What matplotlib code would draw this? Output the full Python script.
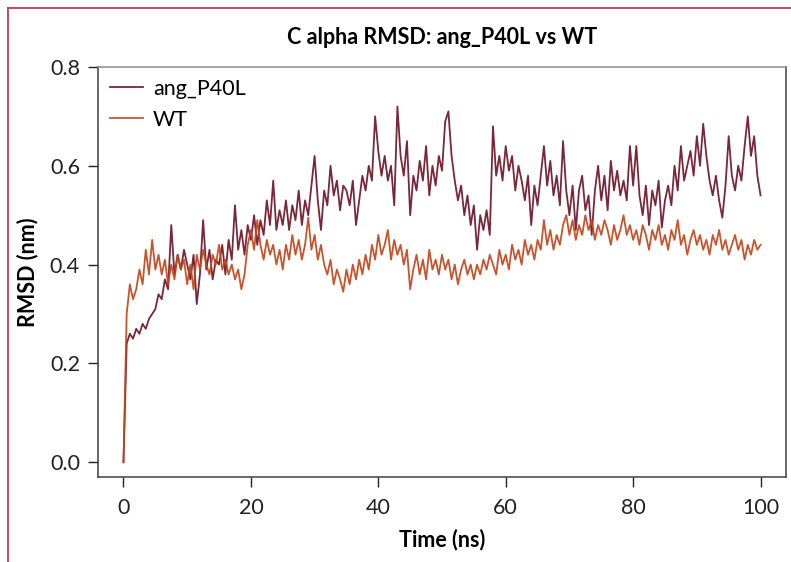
import numpy as np
import matplotlib
matplotlib.use("Agg")
import matplotlib.pyplot as plt
from matplotlib.lines import Line2D

plt.rcParams['font.family'] = ['Lato', 'DejaVu Sans']

# sampling times (ns), one value every 0.5 ns
time_ns = np.arange(0, 100.01, 0.5)

# C alpha RMSD (nm) of the mutant
rmsd_p40l = [
    0.00, 0.24, 0.26, 0.25, 0.27, 0.26, 0.28, 0.27, 0.29, 0.30,
    0.31, 0.34, 0.33, 0.37, 0.35, 0.48, 0.38, 0.42, 0.39, 0.43,
    0.40, 0.37, 0.42, 0.32, 0.38, 0.49, 0.39, 0.43, 0.37, 0.41,
    0.40, 0.44, 0.38, 0.45, 0.41, 0.52, 0.43, 0.47, 0.42, 0.48,
    0.45, 0.50, 0.44, 0.49, 0.46, 0.53, 0.48, 0.57, 0.47, 0.51,
    0.48, 0.53, 0.47, 0.52, 0.49, 0.55, 0.48, 0.53, 0.50, 0.56,
    0.62, 0.53, 0.47, 0.55, 0.52, 0.60, 0.54, 0.57, 0.51, 0.56,
    0.55, 0.52, 0.57, 0.48, 0.53, 0.58, 0.55, 0.60, 0.57, 0.70,
    0.63, 0.58, 0.62, 0.57, 0.60, 0.52, 0.72, 0.62, 0.58, 0.65,
    0.50, 0.58, 0.55, 0.61, 0.57, 0.64, 0.54, 0.60, 0.56, 0.62,
    0.59, 0.69, 0.71, 0.62, 0.57, 0.53, 0.56, 0.50, 0.54, 0.48,
    0.52, 0.43, 0.50, 0.47, 0.51, 0.46, 0.68, 0.58, 0.62, 0.57,
    0.64, 0.59, 0.62, 0.55, 0.60, 0.57, 0.53, 0.58, 0.48, 0.56,
    0.52, 0.58, 0.64, 0.56, 0.61, 0.54, 0.58, 0.52, 0.65, 0.55,
    0.50, 0.56, 0.47, 0.55, 0.58, 0.51, 0.54, 0.46, 0.55, 0.60,
    0.53, 0.58, 0.51, 0.61, 0.55, 0.59, 0.54, 0.57, 0.53, 0.64,
    0.56, 0.64, 0.54, 0.50, 0.56, 0.48, 0.55, 0.52, 0.57, 0.475,
    0.53, 0.56, 0.52, 0.60, 0.55, 0.64, 0.57, 0.60, 0.63, 0.58,
    0.66, 0.60, 0.685, 0.62, 0.57, 0.54, 0.58, 0.53, 0.495, 0.56,
    0.66, 0.58, 0.55, 0.60, 0.57, 0.64, 0.70, 0.62, 0.66, 0.58,
    0.54,
]

# C alpha RMSD (nm) of the wild type
rmsd_wt = [
    0.00, 0.30, 0.36, 0.33, 0.35, 0.39, 0.36, 0.43, 0.38, 0.45,
    0.39, 0.42, 0.38, 0.41, 0.36, 0.40, 0.37, 0.42, 0.39, 0.41,
    0.36, 0.40, 0.35, 0.42, 0.39, 0.43, 0.40, 0.38, 0.42, 0.40,
    0.44, 0.39, 0.41, 0.38, 0.40, 0.37, 0.39, 0.35, 0.38, 0.44,
    0.47, 0.43, 0.49, 0.44, 0.41, 0.45, 0.42, 0.44, 0.40, 0.43,
    0.39, 0.44, 0.41, 0.46, 0.42, 0.45, 0.41, 0.44, 0.495, 0.43,
    0.46, 0.41, 0.44, 0.40, 0.38, 0.41, 0.36, 0.39, 0.37, 0.345,
    0.39, 0.36, 0.40, 0.37, 0.41, 0.38, 0.42, 0.39, 0.44, 0.41,
    0.46, 0.42, 0.44, 0.47, 0.41, 0.45, 0.42, 0.44, 0.40, 0.43,
    0.35, 0.39, 0.42, 0.38, 0.41, 0.37, 0.43, 0.39, 0.41, 0.38,
    0.42, 0.39, 0.41, 0.37, 0.40, 0.36, 0.39, 0.41, 0.38, 0.40,
    0.37, 0.40, 0.38, 0.41, 0.39, 0.42, 0.40, 0.38, 0.43, 0.40,
    0.42, 0.39, 0.44, 0.41, 0.43, 0.40, 0.45, 0.42, 0.44, 0.41,
    0.45, 0.43, 0.49, 0.44, 0.47, 0.43, 0.46, 0.44, 0.48, 0.50,
    0.46, 0.49, 0.45, 0.48, 0.46, 0.50, 0.47, 0.49, 0.45, 0.48,
    0.46, 0.49, 0.47, 0.44, 0.48, 0.45, 0.47, 0.50, 0.46, 0.48,
    0.45, 0.47, 0.44, 0.48, 0.46, 0.43, 0.47, 0.45, 0.48, 0.44,
    0.46, 0.43, 0.47, 0.45, 0.49, 0.44, 0.46, 0.42, 0.45, 0.47,
    0.44, 0.46, 0.43, 0.45, 0.42, 0.46, 0.44, 0.47, 0.43, 0.45,
    0.42, 0.44, 0.46, 0.43, 0.45, 0.41, 0.44, 0.42, 0.45, 0.43,
    0.44,
]

labels = ['ang_P40L', 'WT']
colors = ['#6e1428', '#c4451c']

fig = plt.figure(figsize=(7.91, 5.62), dpi=100)
ax = fig.add_axes([0.1239, 0.1512, 0.8698, 0.7296])

ax.plot(time_ns, rmsd_p40l, color=colors[0], lw=1.3, alpha=0.92, label=labels[0])
ax.plot(time_ns, rmsd_wt, color=colors[1], lw=1.3, alpha=0.92, label=labels[1])

ax.set_xlim(-4, 104)
ax.set_ylim(-0.03, 0.8)
ax.set_xticks([0, 20, 40, 60, 80, 100])
ax.set_yticks([0.0, 0.2, 0.4, 0.6, 0.8])
ax.set_yticklabels(['0.0', '0.2', '0.4', '0.6', '0.8'])
ax.tick_params(direction='out', length=7, width=1, labelsize=15.5, colors='#222222')
ax.tick_params(axis='x', pad=8)
ax.tick_params(axis='y', pad=6)

for side in ['left', 'bottom', 'right']:
    ax.spines[side].set_color('#404040')
    ax.spines[side].set_linewidth(1.1)
ax.spines['top'].set_color('#8c8c8c')
ax.spines['top'].set_linewidth(1.1)

ax.set_xlabel('Time (ns)', fontsize=15.5, fontweight='bold', labelpad=8)
ax.set_ylabel('RMSD (nm)', fontsize=15.5, fontweight='bold', labelpad=8)

leg = ax.legend(loc='upper left', frameon=False, fontsize=15.5, handlelength=1.55,
                handletextpad=0.45, borderaxespad=0.15, labelspacing=0.5)

fig.text(0.559, 0.934, 'C alpha RMSD: ang_P40L vs WT', ha='center', va='center',
         fontsize=15.5, fontweight='bold')

# frame drawn around the figure (only left and top edges are visible)
fig.add_artist(Line2D([8 / 791, 8 / 791], [0, 1 - 8 / 562], color='#c0395a', lw=1.3))
fig.add_artist(Line2D([8 / 791, 1], [1 - 8 / 562, 1 - 8 / 562], color='#c0395a', lw=1.3))

fig.savefig('out.png', dpi=100)
